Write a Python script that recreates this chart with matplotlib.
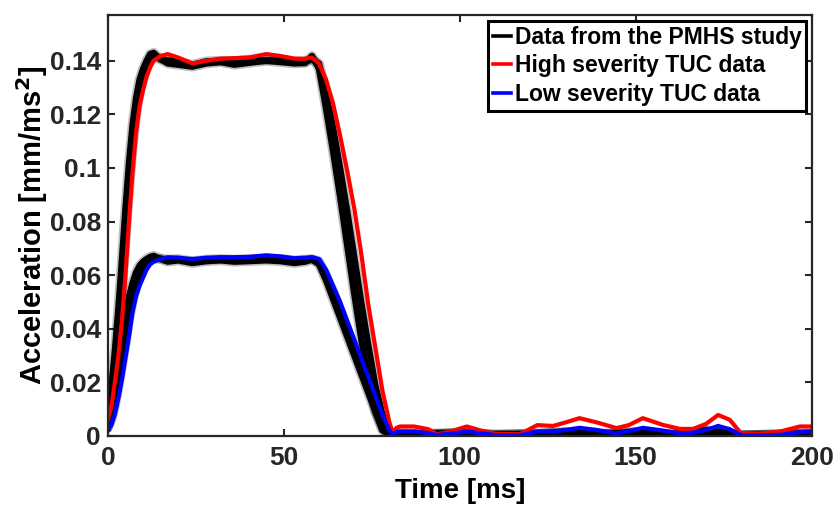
import matplotlib.pyplot as plt
from matplotlib.lines import Line2D

plt.rcParams["font.family"] = ["Liberation Sans", "DejaVu Sans"]
plt.rcParams["font.weight"] = "bold"

# TUC curves
time_ms = [0, 1, 2, 3, 4, 5, 6, 7, 8, 9, 10, 11, 12, 13,
           15, 17, 20, 24, 28, 32, 36, 40, 45, 49, 53, 56, 58, 60,
           62, 64, 66, 68, 70, 72, 74, 76, 78, 80, 81, 82, 83,
           87, 91, 93.5, 97, 102, 106, 110, 117, 122, 126.5, 130, 134, 139,
           144.5, 148, 152, 157.7, 162.5, 166.3, 170, 173.4, 176.7, 180, 185,
           191, 196.6, 200]

high_tuc = [0.006, 0.011, 0.020, 0.030, 0.043, 0.060, 0.080, 0.098, 0.113, 0.123, 0.129, 0.134, 0.1375, 0.140,
            0.1418, 0.1425, 0.1412, 0.139, 0.140, 0.1408, 0.141, 0.1412, 0.1425, 0.1418, 0.1408, 0.1408, 0.1412, 0.139,
            0.133, 0.124, 0.112, 0.099, 0.085, 0.068, 0.049, 0.033, 0.017, 0.005, 0.001, 0.003, 0.0035,
            0.0035, 0.0025, 0.0006, 0.0015, 0.0035, 0.002, 0.0008, 0.0006, 0.004, 0.0037, 0.005, 0.0066, 0.005,
            0.0029, 0.004, 0.0066, 0.0041, 0.0026, 0.0026, 0.0045, 0.0078, 0.006, 0.0008, 0.0008,
            0.0016, 0.0035, 0.0035]

low_tuc = [0.002, 0.004, 0.008, 0.014, 0.021, 0.029, 0.037, 0.046, 0.052, 0.056, 0.059, 0.062, 0.064, 0.065,
           0.066, 0.0667, 0.0665, 0.066, 0.0665, 0.0667, 0.0667, 0.0668, 0.0674, 0.067, 0.0663, 0.0665, 0.0667, 0.066,
           0.062, 0.056, 0.050, 0.043, 0.036, 0.029, 0.022, 0.015, 0.008, 0.002, 0.0005, 0.0015, 0.0016,
           0.0016, 0.001, 0.0003, 0.0008, 0.0016, 0.001, 0.0003, 0.0002, 0.0016, 0.0016, 0.0022, 0.003, 0.0022,
           0.0009, 0.0018, 0.003, 0.002, 0.0009, 0.0012, 0.0022, 0.0037, 0.0025, 0.0002, 0.0002,
           0.0004, 0.0014, 0.0016]

# PMHS corridor curves
t_pmhs = [0, 1, 2, 3, 4, 5, 6, 7, 8, 9, 10, 11, 12, 13,
          15, 17, 20, 24, 28, 32, 36, 40, 45, 49, 53, 56, 58, 60,
          62, 64, 66, 68, 70, 72, 74, 76, 78, 80, 82,
          90, 100, 110, 120, 130, 140, 150, 160, 170, 180, 190, 200]

pmhs_high_1 = [0.008, 0.018, 0.032, 0.048, 0.066, 0.085, 0.102, 0.116, 0.126, 0.133, 0.137, 0.140, 0.1425, 0.143,
               0.1405, 0.139, 0.1385, 0.1378, 0.139, 0.1395, 0.1385, 0.1392, 0.140, 0.1395, 0.139, 0.1392, 0.1418, 0.137,
               0.122, 0.106, 0.089, 0.071, 0.053, 0.036, 0.021, 0.009, 0.002, 0.0005, 0.001,
               0.0005, 0.001, 0.0005, 0.0008, 0.0012, 0.0006, 0.0012, 0.0006, 0.0018, 0.0003, 0.0005, 0.0008]

pmhs_high_2 = [0.007, 0.014, 0.025, 0.038, 0.053, 0.072, 0.091, 0.107, 0.119, 0.128, 0.133, 0.137, 0.140, 0.1415,
               0.1408, 0.1402, 0.1398, 0.1385, 0.1398, 0.140, 0.1398, 0.1405, 0.1402, 0.1405, 0.1398, 0.1395, 0.1405, 0.139,
               0.128, 0.115, 0.100, 0.084, 0.067, 0.050, 0.034, 0.019, 0.008, 0.001, 0.0008,
               0.0008, 0.0012, 0.0004, 0.0006, 0.0015, 0.0008, 0.0015, 0.0004, 0.0022, 0.0002, 0.0006, 0.0010]

pmhs_low_1 = [0.003, 0.009, 0.018, 0.028, 0.037, 0.045, 0.052, 0.057, 0.061, 0.0635, 0.065, 0.066, 0.0668, 0.0672,
              0.066, 0.065, 0.0655, 0.0645, 0.0652, 0.0655, 0.065, 0.0652, 0.0655, 0.0652, 0.0645, 0.065, 0.0658, 0.064,
              0.058, 0.051, 0.044, 0.037, 0.030, 0.023, 0.016, 0.009, 0.003, 0.0005, 0.0005,
              0.0004, 0.0008, 0.0003, 0.0005, 0.0010, 0.0004, 0.0010, 0.0003, 0.0015, 0.0002, 0.0004, 0.0006]

pmhs_low_2 = [0.003, 0.006, 0.011, 0.018, 0.026, 0.034, 0.043, 0.050, 0.055, 0.059, 0.062, 0.064, 0.0655, 0.066,
              0.0662, 0.0658, 0.066, 0.0652, 0.0658, 0.066, 0.0658, 0.066, 0.0662, 0.066, 0.0655, 0.0658, 0.066, 0.0652,
              0.060, 0.054, 0.047, 0.040, 0.033, 0.026, 0.019, 0.012, 0.005, 0.001, 0.0005,
              0.0006, 0.0010, 0.0004, 0.0006, 0.0012, 0.0006, 0.0012, 0.0005, 0.0018, 0.0002, 0.0005, 0.0008]

fig = plt.figure(figsize=(8.36, 5.08), dpi=100)
ax = fig.add_axes([0.129, 0.142, 0.842, 0.828])

for curve in [pmhs_high_1, pmhs_high_2, pmhs_low_1, pmhs_low_2]:
    ax.plot(t_pmhs, curve, color="black", lw=7, alpha=0.25, solid_capstyle="round")
    ax.plot(t_pmhs, curve, color="black", lw=4.5)

ax.plot(time_ms, high_tuc, color="#ff0000", lw=3)
ax.plot(time_ms, low_tuc, color="#0000ff", lw=3)

ax.set_xlim(0, 200)
ax.set_ylim(0, 0.157)
ax.set_xticks([0, 50, 100, 150, 200])
ax.set_yticks([0, 0.02, 0.04, 0.06, 0.08, 0.1, 0.12, 0.14])
ax.set_yticklabels(["0", "0.02", "0.04", "0.06", "0.08", "0.1", "0.12", "0.14"])
ax.tick_params(direction="in", length=5, width=1.5, top=True, right=True,
               labelsize=19, pad=5, colors="#262626")
ax.tick_params(axis="x", pad=7)
for s in ax.spines.values():
    s.set_linewidth(1.6)
    s.set_color("#262626")

ax.set_xlabel("Time [ms]", fontsize=20, fontweight="bold", labelpad=6)
ax.set_ylabel(r"Acceleration [mm/ms$^\mathbf{2}$]", fontsize=21, fontweight="bold", labelpad=0)

handles = [Line2D([], [], color="black", lw=2.6),
           Line2D([], [], color="#ff0000", lw=2.6),
           Line2D([], [], color="#0000ff", lw=2.6)]
labels = ["Data from the PMHS study", "High severity TUC data", "Low severity TUC data"]
leg = ax.legend(handles, labels, loc="upper right", fontsize=16.5, handlelength=0.8,
                handletextpad=0.15, labelspacing=0.25, borderpad=0.2, borderaxespad=0.25,
                fancybox=False, framealpha=1)
leg.get_frame().set_edgecolor("black")
leg.get_frame().set_linewidth(2.2)

fig.savefig("out.png", dpi=100)
